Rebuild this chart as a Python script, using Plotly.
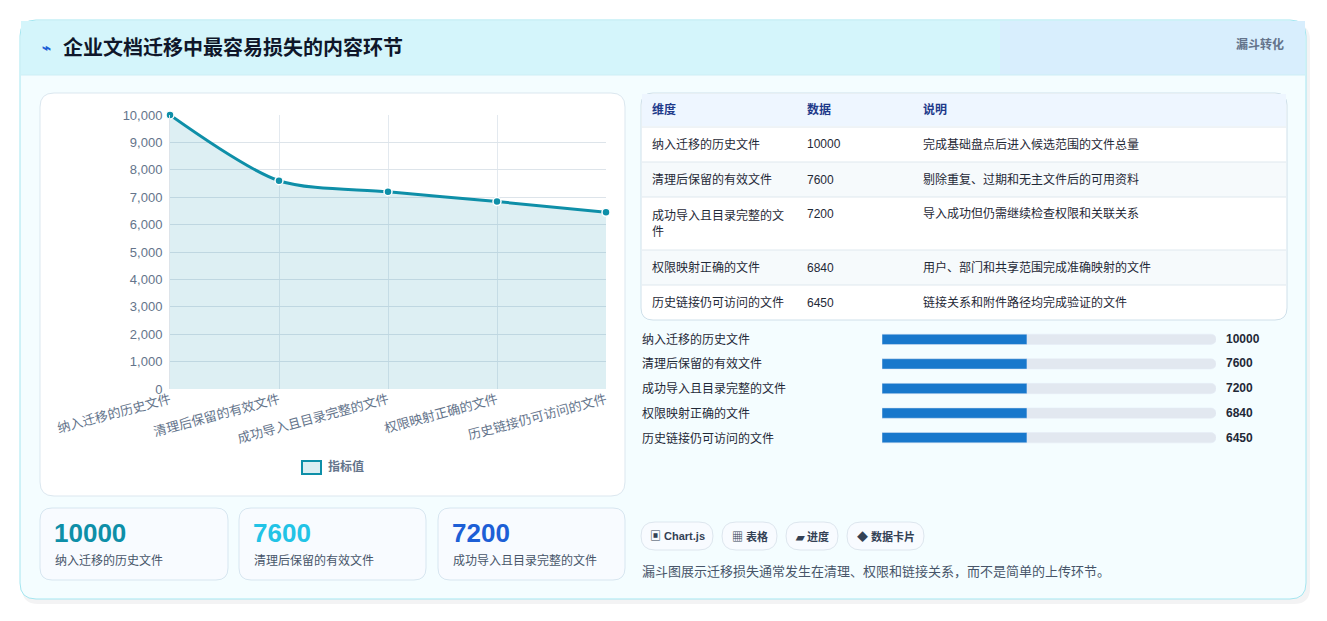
import plotly.graph_objects as go

W, H = 1327, 621
OFF = 8  # the page puts the figure 8px in from the top-left corner
FONT = "Liberation Sans, Noto Sans CJK SC"

stages = ["纳入迁移的历史文件", "清理后保留的有效文件", "成功导入且目录完整的文件",
          "权限映射正确的文件", "历史链接仍可访问的文件"]
values = [10000, 7600, 7200, 6840, 6450]
notes = ["完成基础盘点后进入候选范围的文件总量", "剔除重复、过期和无主文件后的可用资料",
         "导入成功但仍需继续检查权限和关联关系", "用户、部门和共享范围完成准确映射的文件",
         "链接关系和附件路径均完成验证的文件"]
table_names = ["纳入迁移的历史文件", "清理后保留的有效文件", "成功导入且目录完整的文<br>件",
               "权限映射正确的文件", "历史链接仍可访问的文件"]
progress_fill = [0.434, 0.434, 0.434, 0.434, 0.434]
kpi_colors = ["#0e8fa8", "#22c3e6", "#1d5fd6"]
chips = ["▣ Chart.js", "▦ 表格", "▰ 进度", "◆ 数据卡片"]


def px(x):
    return (x - OFF) / W


def py(y):
    return 1 - (y - OFF) / H


def rrect(x0, y0, x1, y1, r, fill, line="rgba(0,0,0,0)", lw=1):
    p = (f"M {px(x0 + r)},{py(y0)} L {px(x1 - r)},{py(y0)} Q {px(x1)},{py(y0)} {px(x1)},{py(y0 + r)} "
         f"L {px(x1)},{py(y1 - r)} Q {px(x1)},{py(y1)} {px(x1 - r)},{py(y1)} "
         f"L {px(x0 + r)},{py(y1)} Q {px(x0)},{py(y1)} {px(x0)},{py(y1 - r)} "
         f"L {px(x0)},{py(y0 + r)} Q {px(x0)},{py(y0)} {px(x0 + r)},{py(y0)} Z")
    return dict(type="path", path=p, xref="paper", yref="paper", fillcolor=fill,
                line=dict(color=line, width=lw), layer="below")


def text(x, y, s, size=12, color="#1f2937", anchor="left", bold=False, **kw):
    if bold:
        s = "<b>" + s + "</b>"
    return dict(x=px(x), y=py(y), xref="paper", yref="paper", text=s, showarrow=False,
                xanchor=anchor, yanchor="middle", font=dict(size=size, color=color, family=FONT), **kw)


shapes = []
ann = []

# outer card
shapes.append(rrect(22, 24, 1310, 604, 16, "rgba(15,23,42,0.05)"))
shapes.append(rrect(20, 20, 1306, 599, 16, "#f4fdff", "#a5e6f0"))
shapes.append(dict(type="rect", xref="paper", yref="paper", x0=px(21), x1=px(1305), y0=py(75), y1=py(21),
                   fillcolor="#d4f5fb", line=dict(width=0), layer="below"))
shapes.append(dict(type="rect", xref="paper", yref="paper", x0=px(1000), x1=px(1305), y0=py(75), y1=py(21),
                   fillcolor="rgba(220,232,255,0.5)", line=dict(width=0), layer="below"))
shapes.append(dict(type="line", xref="paper", yref="paper", x0=px(21), x1=px(1305), y0=py(75), y1=py(75),
                   line=dict(color="#cdeef5", width=1), layer="below"))
ann.append(text(40, 47, "⌁", 15, "#1d5fd6", bold=True))
ann.append(text(61, 47, "企业文档迁移中最容易损失的内容环节", 20, "#0f172a", bold=True))
ann.append(text(1286, 44, "漏斗转化", 12, "#64748b", "right", bold=True))

# chart card
shapes.append(rrect(40, 93, 625, 496, 14, "#ffffff", "#dbe7ef"))
# legend
shapes.append(dict(type="rect", xref="paper", yref="paper", x0=px(302), x1=px(321), y0=py(474), y1=py(461),
                   fillcolor="rgba(14,143,168,0.15)", line=dict(color="#0e8fa8", width=2)))
ann.append(text(326, 467, "指标值", 12, "#64748b", bold=True))

# KPI cards
for i, (x0, x1) in enumerate([(40, 228), (239, 426), (438, 625)]):
    shapes.append(rrect(x0, 508, x1, 580, 12, "#f8fbff", "#d7e6f0"))
    ann.append(text(x0 + 12, 533, str(values[i]), 26, kpi_colors[i], bold=True))
    ann.append(text(x0 + 13, 560, stages[i], 12, "#475569"))

# table
shapes.append(rrect(641, 93, 1287, 320, 12, "#ffffff", "#cfe0ea"))
shapes.append(dict(type="rect", xref="paper", yref="paper", x0=px(642), x1=px(1286), y0=py(126), y1=py(94),
                   fillcolor="#eef6ff", line=dict(width=0), layer="below"))
ann.append(text(650, 109, "维度", 12, "#1e3a8a", bold=True))
ann.append(text(805, 109, "数据", 12, "#1e3a8a", bold=True))
ann.append(text(921, 109, "说明", 12, "#1e3a8a", bold=True))
rows = [(127, 162), (162, 197), (197, 250), (250, 285), (285, 320)]
for i, (y0, y1) in enumerate(rows):
    shapes.append(dict(type="line", xref="paper", yref="paper", x0=px(642), x1=px(1286), y0=py(y0), y1=py(y0),
                       line=dict(color="#dfe8ee", width=1)))
    if i % 2 == 1:
        shapes.append(dict(type="rect", xref="paper", yref="paper", x0=px(642), x1=px(1286), y0=py(y1), y1=py(y0),
                           fillcolor="#f6fafc", line=dict(width=0), layer="below"))
    ym = (y0 + y1) / 2
    ann.append(text(650, ym, table_names[i], 12, "#1f2937", align="left"))
    ann.append(text(805, ym if i != 2 else 214, str(values[i]), 12, "#1f2937"))
    ann.append(text(921, ym if i != 2 else 214, notes[i], 12, "#1f2937"))

# progress labels
prog_y = [339, 363, 388, 413, 438]
for i, y in enumerate(prog_y):
    ann.append(text(640, y, stages[i], 12, "#1f2937"))
    ann.append(text(1224, y, str(values[i]), 12, "#1f2937", bold=True))

# chips
for c, (x0, x1) in zip(chips, [(641, 713), (722, 777), (786, 838), (847, 924)]):
    shapes.append(rrect(x0, 522, x1, 550, 14, "#f8fbff", "#dde6ee"))
    ann.append(text((x0 + x1) / 2, 536, c, 11, "#334155", "center", bold=True))
ann.append(text(640, 571, "漏斗图展示迁移损失通常发生在清理、权限和链接关系，而不是简单的上传环节。", 13, "#475569"))

fig = go.Figure()
idx = list(range(len(stages)))
fig.add_trace(go.Scatter(
    x=idx, y=values, mode="lines+markers", line=dict(color="#0e8fa8", width=3, shape="spline", smoothing=0.8),
    fill="tozeroy", fillcolor="rgba(14,143,168,0.14)",
    marker=dict(size=8, color="#0e8fa8", line=dict(color="#ffffff", width=1.5)),
    xaxis="x", yaxis="y", showlegend=False, cliponaxis=False))

# progress bars
fig.add_trace(go.Bar(y=idx, x=[1] * 5, orientation="h", width=0.42, marker=dict(color="#e2e8f0", cornerradius=5),
                     xaxis="x2", yaxis="y2", showlegend=False, hoverinfo="skip"))
fig.add_trace(go.Bar(y=idx, x=progress_fill, orientation="h", width=0.42,
                     marker=dict(color="#1878cc", cornerradius=5),
                     xaxis="x2", yaxis="y2", showlegend=False, hoverinfo="skip"))

fig.update_layout(
    width=W, height=H, margin=dict(l=0, r=0, t=0, b=0), paper_bgcolor="#ffffff", plot_bgcolor="rgba(0,0,0,0)",
    barmode="overlay", shapes=shapes, annotations=ann, font=dict(family=FONT),
    xaxis=dict(domain=[px(170), px(606)], range=[0, 4], tickvals=idx, ticktext=stages, tickangle=-15,
               showgrid=True, gridcolor="#e3e9ef", zeroline=False, showline=False, automargin=False,
               tickfont=dict(size=13, color="#64748b", family=FONT), anchor="y"),
    yaxis=dict(domain=[py(389), py(115)], range=[0, 10000], dtick=1000, tickformat=",", automargin=False,
               gridcolor="#dde4ea", zeroline=False, showline=True, linecolor="#dde4ea", ticklabelstandoff=4,
               tickfont=dict(size=13, color="#64748b"), anchor="x"),
    xaxis2=dict(domain=[px(882), px(1216)], range=[0, 1], visible=False, anchor="y2", automargin=False),
    yaxis2=dict(domain=[py(450), py(327)], range=[4.5, -0.5], visible=False, anchor="x2", automargin=False),
)

fig.write_html("out.html")
